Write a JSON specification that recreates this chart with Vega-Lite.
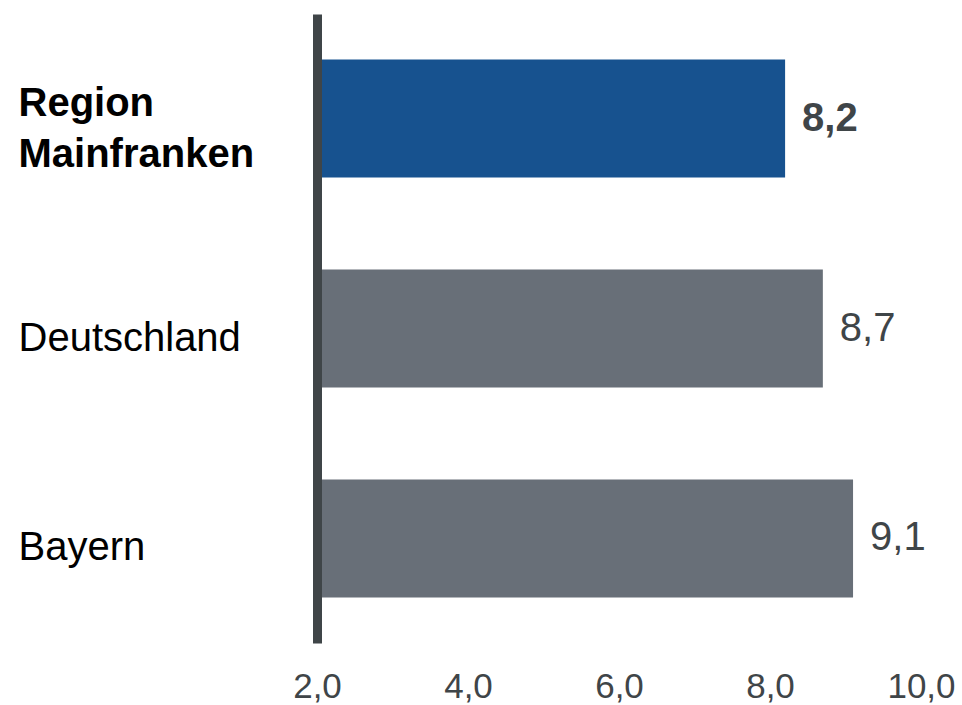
{
  "$schema": "https://vega.github.io/schema/vega-lite/v6.json",
  "width": 604,
  "height": 629,
  "autosize": {"type": "none"},
  "padding": {"left": 317, "top": 14, "right": 41, "bottom": 62},
  "background": "white",
  "config": {"view": {"stroke": null}, "font": "Liberation Sans"},
  "data": {
    "values": [
      {"region": "Region Mainfranken", "value": 8.2, "label": "8,2", "highlight": "ja"},
      {"region": "Deutschland", "value": 8.7, "label": "8,7", "highlight": "nein"},
      {"region": "Bayern", "value": 9.1, "label": "9,1", "highlight": "nein"}
    ]
  },
  "encoding": {
    "y": {
      "field": "region",
      "type": "nominal",
      "sort": null,
      "scale": {"paddingInner": 0.438, "paddingOuter": 0.217},
      "axis": {
        "title": null,
        "ticks": false,
        "domainWidth": 9,
        "domainColor": "#3F4548",
        "labelAlign": "left",
        "labelBaseline": "middle",
        "labelPadding": 299,
        "labelLimit": 400,
        "labelFontSize": 40,
        "labelColor": "#000000",
        "labelLineHeight": 51,
        "labelOffset": {"condition": {"test": "datum.value == 'Region Mainfranken'", "value": -15}, "value": 10},
        "labelFontWeight": {"condition": {"test": "datum.value == 'Region Mainfranken'", "value": "bold"}, "value": "normal"},
        "labelExpr": "datum.value == 'Region Mainfranken' ? ['Region', 'Mainfranken'] : datum.value",
        "zindex": 1
      }
    }
  },
  "layer": [
    {
      "mark": {"type": "bar"},
      "encoding": {
        "x": {
          "field": "value",
          "type": "quantitative",
          "scale": {"domain": [2, 10], "nice": false, "zero": false},
          "axis": {
            "title": null,
            "values": [2, 4, 6, 8, 10],
            "grid": false,
            "ticks": false,
            "domain": false,
            "labelFontSize": 35,
            "labelColor": "#3F4548",
            "labelPadding": 26,
            "labelFlush": false,
            "labelExpr": "replace(format(datum.value, '.1f'), '.', ',')"
          }
        },
        "x2": {"datum": 2},
        "color": {
          "field": "highlight",
          "type": "nominal",
          "scale": {"domain": ["ja", "nein"], "range": ["#17528F", "#686F78"]},
          "legend": null
        }
      }
    },
    {
      "transform": [{"filter": "datum.highlight == 'ja'"}],
      "mark": {"type": "text", "align": "left", "baseline": "middle", "dx": 17, "fontSize": 40, "fontWeight": "bold", "color": "#3F4548"},
      "encoding": {
        "x": {"field": "value", "type": "quantitative"},
        "text": {"field": "label"}
      }
    },
    {
      "transform": [{"filter": "datum.highlight == 'nein'"}],
      "mark": {"type": "text", "align": "left", "baseline": "middle", "dx": 17, "fontSize": 40, "color": "#3F4548"},
      "encoding": {
        "x": {"field": "value", "type": "quantitative"},
        "text": {"field": "label"}
      }
    }
  ]
}
